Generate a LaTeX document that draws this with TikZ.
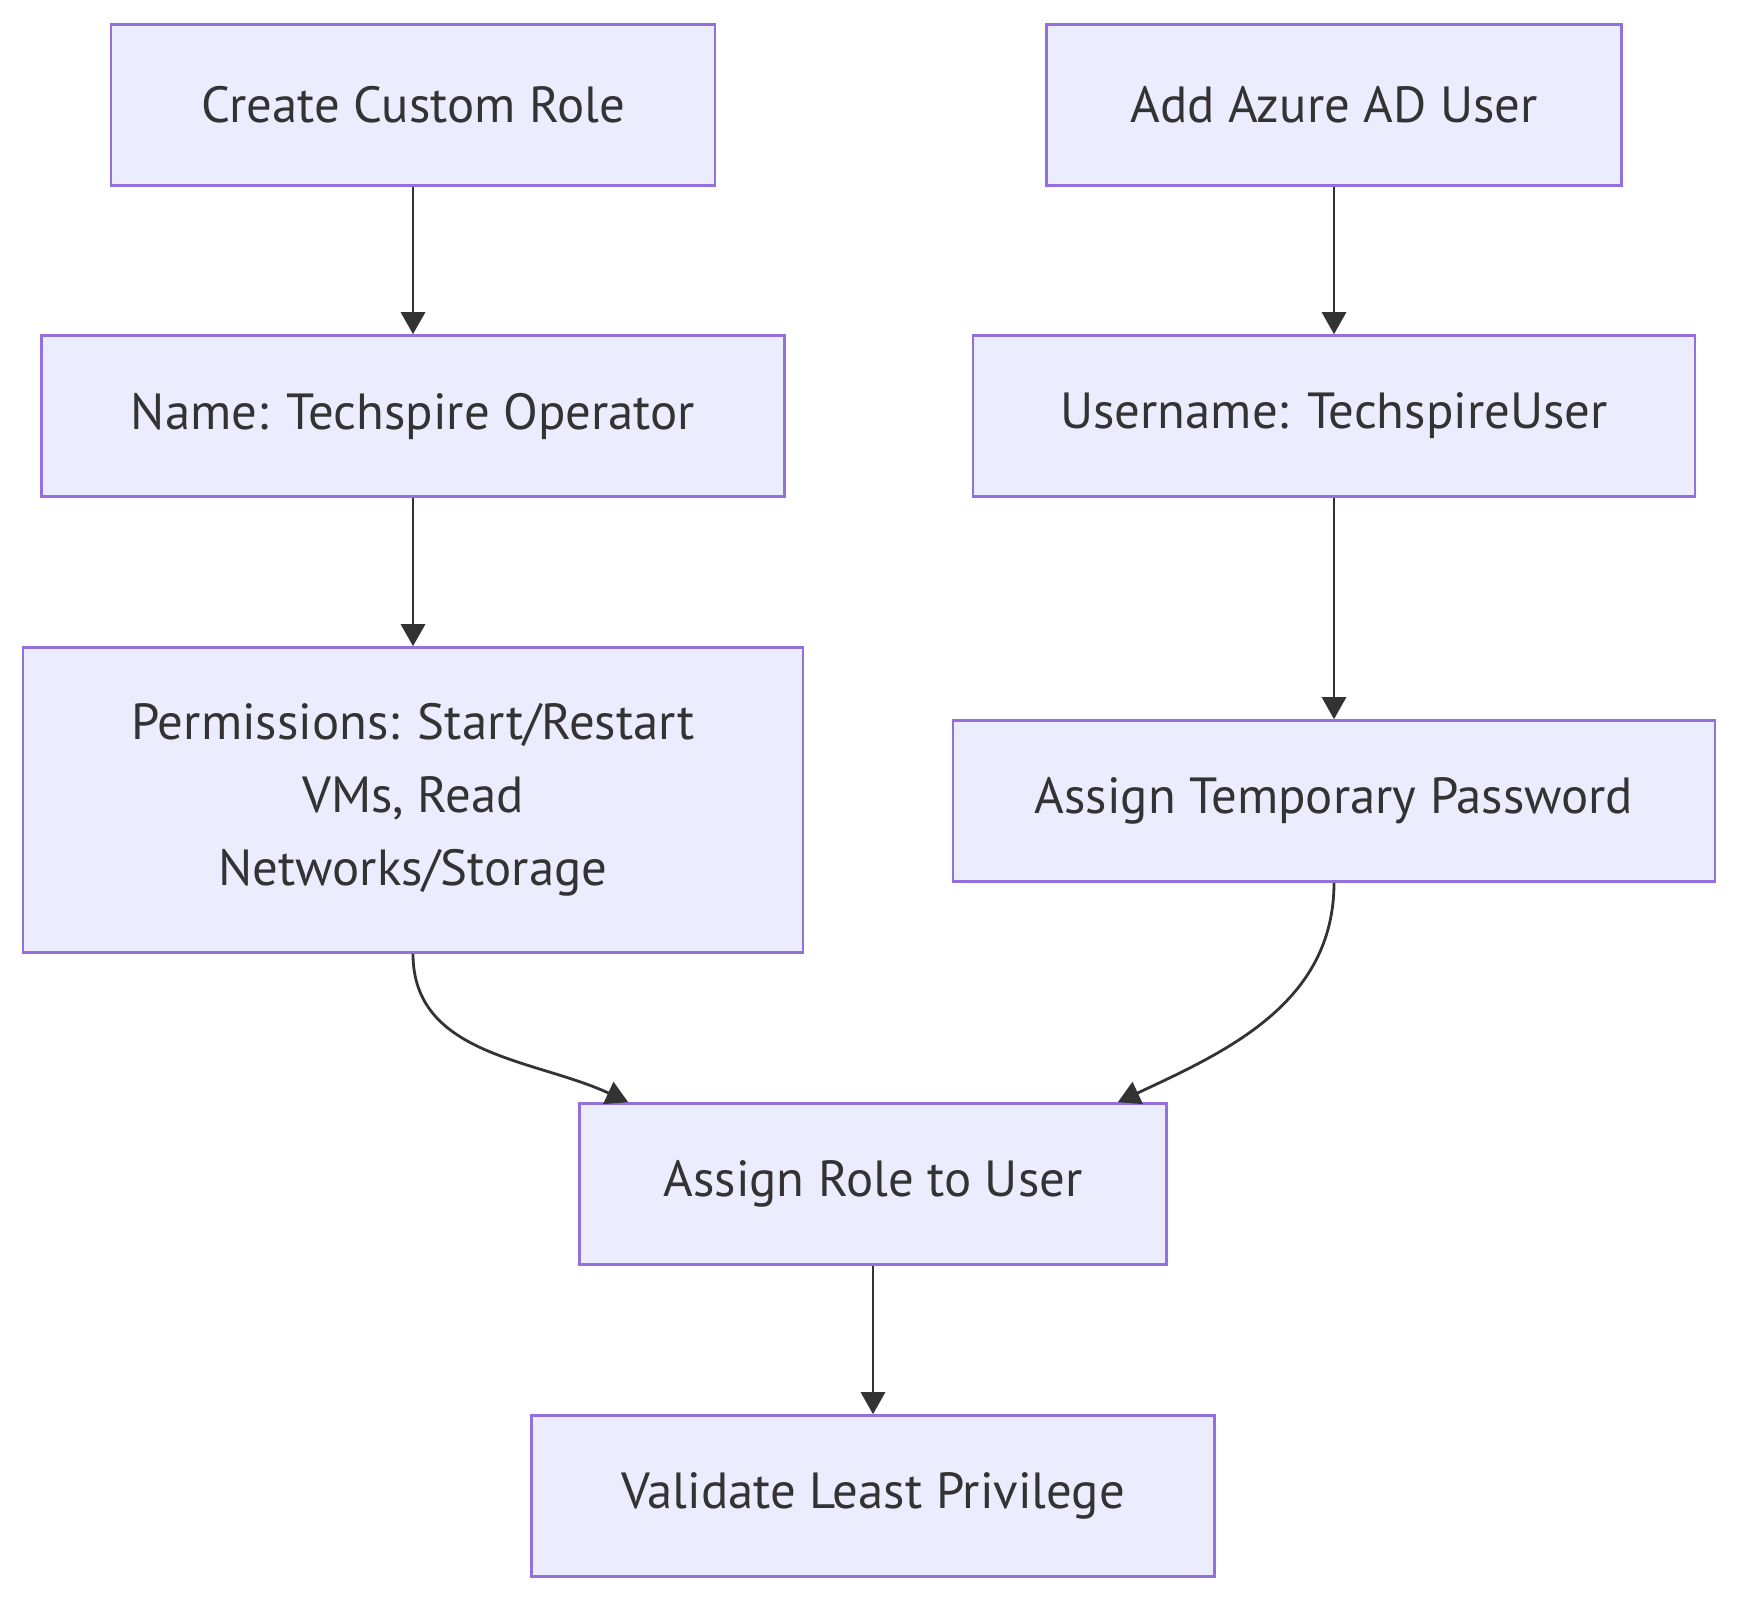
\documentclass[tikz,border=0pt]{standalone}
\usepackage{fontspec}
\setmainfont{PT Sans}
\usepackage{xcolor}
\usetikzlibrary{positioning,calc,arrows.meta}
\definecolor{boxbg}{HTML}{ECECFF}
\definecolor{boxline}{HTML}{9370DB}
\definecolor{ink}{HTML}{333333}

\tikzset{
  flowbox/.style={draw=boxline, line width=1.3pt, fill=boxbg, text=ink, inner sep=0pt,
    minimum height=80.5pt, align=center, font=\fontsize{25.4}{36.5}\selectfont},
  flowarrow/.style={draw=ink, line width=1.4pt, -{Triangle[length=11pt, width=12pt]}}
}

\begin{document}
\begin{tikzpicture}[x=0.5pt, y=-0.5pt]
  \useasboundingbox (0,0) rectangle (1739,1602);

  % Role column
  \node[flowbox, minimum width=302pt] (role) at (413, 105) {Create Custom Role};
  \node[flowbox, minimum width=371.5pt] (rolename) at (413, 416) {Name: Techspire Operator};
  \node[flowbox, minimum width=390pt, minimum height=152.5pt] (perms) at (413, 800) {Permissions: Start/Restart\\VMs, Read\\Networks/Storage};

  % User column
  \node[flowbox, minimum width=287.5pt] (aduser) at (1334, 105) {Add Azure AD User};
  \node[flowbox, minimum width=361pt] (username) at (1334, 416) {Username: TechspireUser};
  \node[flowbox, minimum width=381pt] (password) at (1334, 801) {Assign Temporary Password};

  % Joined steps
  \node[flowbox, minimum width=293.5pt] (assign) at (873, 1184) {Assign Role to User};
  \node[flowbox, minimum width=341.5pt] (validate) at (873, 1496) {Validate Least Privilege};

  \draw[flowarrow] (role.south) -- (rolename.north);
  \draw[flowarrow] (rolename.south) -- (perms.north);
  \draw[flowarrow] (aduser.south) -- (username.north);
  \draw[flowarrow] (username.south) -- (password.north);
  \draw[flowarrow] (perms.south) to[out=-90, in=155] ([xshift=25pt]assign.north west);
  \draw[flowarrow] (password.south) to[out=-90, in=25] ([xshift=-25pt]assign.north east);
  \draw[flowarrow] (assign.south) -- (validate.north);
\end{tikzpicture}
\end{document}
